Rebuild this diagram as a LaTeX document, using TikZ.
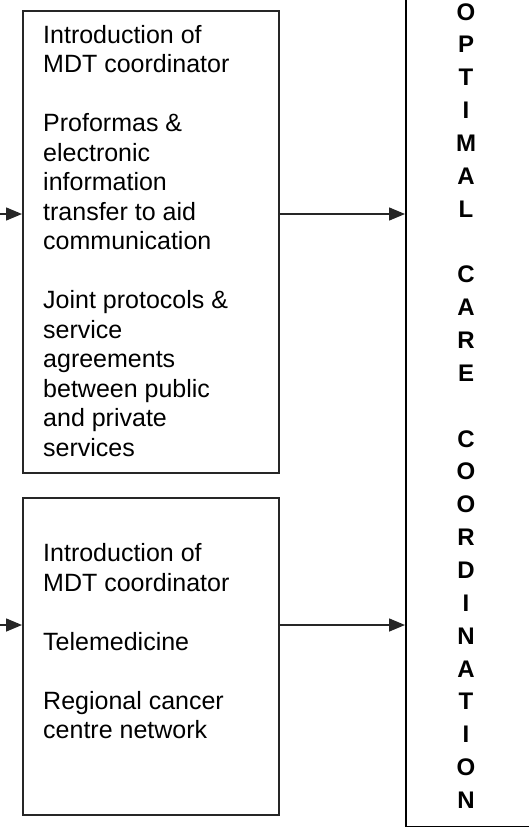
\documentclass[tikz,border=0pt]{standalone}
\usepackage{fontspec}
\setmainfont{Liberation Sans}
\usetikzlibrary{arrows.meta}
\newcommand{\bodyfnt}{\fontsize{25pt}{29.5pt}\selectfont}
\newcommand{\boldfnt}{\fontsize{24pt}{32.85pt}\selectfont\bfseries}
\newcommand{\myln}[1]{\hbox{#1}}
\newcommand{\mycl}[1]{\hbox to 0pt{\hss #1\hss}}
\begin{document}
\begin{tikzpicture}[x=1pt,y=-1pt,
  boxstyle/.style={draw=black!85, line width=1.6pt, inner sep=0pt, anchor=north west},
  txt/.style={anchor=base west, inner sep=0pt, font=\bodyfnt},
  vert/.style={anchor=base, inner sep=0pt, font=\boldfnt},
  conn/.style={draw=black!85, line width=1.5pt, -{Triangle[length=16pt,width=13pt]}}]
\useasboundingbox (0,0) rectangle (529,827);
\fill[white] (0,0) rectangle (529,827);
% boxes
\node[boxstyle, minimum width=256pt, minimum height=462pt] (b1) at (22,10) {};
\node[boxstyle, minimum width=256pt, minimum height=317pt] (b2) at (22,497) {};
\node[draw=black, line width=1.8pt, inner sep=0pt, anchor=north west,
      minimum width=200pt, minimum height=845.6pt] (opt) at (405,-20) {};
% texts
\node[txt] (t1) at (43,43.3) {\vtop{\baselineskip=29.5pt
  \myln{Introduction of}\myln{MDT coordinator}\myln{}%
  \myln{Proformas \&}\myln{electronic}\myln{information}\myln{transfer to aid}\myln{communication}\myln{}%
  \myln{Joint protocols \&}\myln{service}\myln{agreements}\myln{between public}\myln{and private}\myln{services}}};
\node[txt] (t2) at (43,561.7) {\vtop{\baselineskip=29.5pt
  \myln{Introduction of}\myln{MDT coordinator}\myln{}%
  \myln{Telemedicine}\myln{}%
  \myln{Regional cancer}\myln{centre network}}};
\node[vert] (t3) at (466,20) {\vtop{\baselineskip=32.85pt
  \mycl{O}\mycl{P}\mycl{T}\mycl{I}\mycl{M}\mycl{A}\mycl{L}\mycl{}%
  \mycl{C}\mycl{A}\mycl{R}\mycl{E}\mycl{}%
  \mycl{C}\mycl{O}\mycl{O}\mycl{R}\mycl{D}\mycl{I}\mycl{N}\mycl{A}\mycl{T}\mycl{I}\mycl{O}\mycl{N}}};
% connectors
\coordinate (in1) at (0,214);
\coordinate (in2) at (0,625);
\draw[conn] (in1) -- (in1 -| b1.west);
\draw[conn] (in1 -| b1.east) -- (in1 -| opt.west);
\draw[conn] (in2) -- (in2 -| b2.west);
\draw[conn] (in2 -| b2.east) -- (in2 -| opt.west);
\end{tikzpicture}
\end{document}
